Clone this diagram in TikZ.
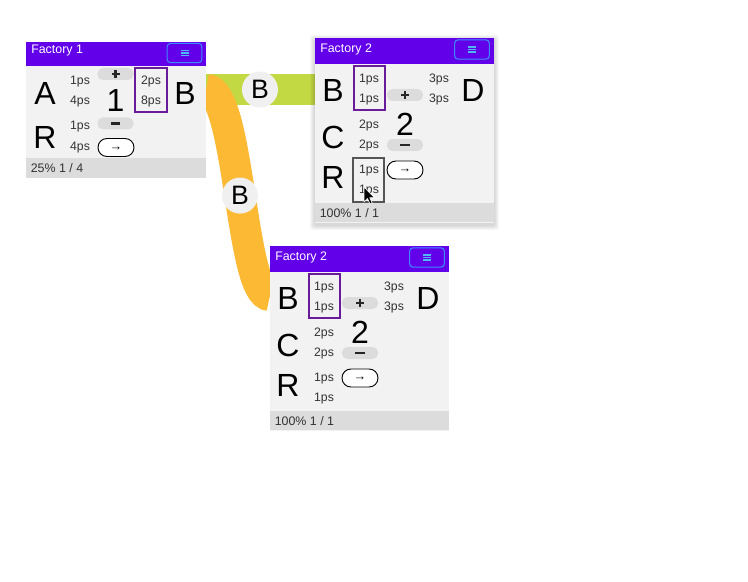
\documentclass[tikz,border=0pt]{standalone}
\usepackage{fontspec}
\setmainfont{Liberation Sans}
\definecolor{hdrc}{HTML}{6200EA}
\definecolor{bodyc}{HTML}{F2F2F2}
\definecolor{footc}{HTML}{DCDCDC}
\definecolor{btnc}{HTML}{DCDCDC}
\definecolor{menub}{HTML}{3D8BFF}
\definecolor{menui}{HTML}{4FB8F7}
\definecolor{selp}{HTML}{6A1B9A}
\definecolor{selg}{HTML}{555555}
\definecolor{greenc}{HTML}{C3D944}
\definecolor{orangec}{HTML}{FBB934}
\definecolor{txt}{HTML}{333333}
\definecolor{lblc}{HTML}{F0F0F0}
\tikzset{
  cardbody/.style={rectangle, fill=bodyc, inner sep=0pt, anchor=north west},
  hdrbar/.style={rectangle, fill=hdrc, inner sep=0pt, anchor=north west},
  footbar/.style={rectangle, fill=footc, inner sep=0pt, anchor=south west},
  hdrtext/.style={anchor=base west, yshift=-3.3pt, text=white, font=\fontsize{9.3}{11}\selectfont, inner sep=0pt},
  foottext/.style={anchor=base west, yshift=-3.3pt, text=txt, font=\fontsize{9.3}{11}\selectfont, inner sep=0pt},
  rate/.style={anchor=base, yshift=-3.3pt, text=txt, font=\fontsize{9.2}{11}\selectfont, inner sep=0pt},
  big/.style={text=black, font=\fontsize{24}{28}\selectfont, inner sep=0pt},
  graybtn/.style={rectangle, fill=btnc, rounded corners=4pt, inner sep=0pt, minimum width=27pt, minimum height=9pt},
  btnicon/.style={draw=black!85, line width=1.7pt},
  pillbtn/.style={rectangle, fill=white, draw=black, line width=0.7pt, rounded corners=6.7pt, inner sep=0pt, minimum width=27pt, minimum height=13.5pt},
  arrowtxt/.style={inner sep=0pt, yshift=-0.8pt, font=\fontsize{9.5}{9.5}\selectfont},
  menubtn/.style={rectangle, draw=menub, line width=0.8pt, rounded corners=2.5pt, inner sep=0pt, minimum width=26pt, minimum height=14.5pt},
  menuicon/.style={draw=menui, line width=0.8pt},
  selbox/.style={rectangle, draw=selp, line width=1.3pt, inner sep=0pt, minimum width=23.25pt, minimum height=33pt},
  grbox/.style={rectangle, draw=selg, line width=1.3pt, inner sep=0pt, minimum width=23.25pt, minimum height=33pt},
  flowlbl/.style={circle, fill=lblc, minimum size=27pt, inner sep=0pt, font=\fontsize{20}{24}\selectfont},
  band/.style={line width=23.25pt},
}
\newcommand{\plusicon}[1]{%
  \draw[btnicon] ([xshift=-3pt]#1.center) -- ([xshift=3pt]#1.center);
  \draw[btnicon] ([yshift=-3pt]#1.center) -- ([yshift=3pt]#1.center);}
\newcommand{\minusicon}[1]{%
  \draw[btnicon, line width=1.9pt] ([xshift=-3.4pt]#1.center) -- ([xshift=3.4pt]#1.center);}
\newcommand{\factorytwo}[3]{%
\begin{scope}[shift={(#2,#3)}]
  \node[cardbody, minimum width=134.25pt, minimum height=138.5pt] (#1) at (0,0) {};
  \node[hdrbar, minimum width=134.25pt, minimum height=19.5pt] (#1hdr) at (0,0) {};
  \node[hdrtext] (#1title) at (5,10) {Factory 2};
  \node[menubtn] (#1menu) at (157,11.5) {};
  \draw[menuicon] (153,9) -- (161,9);
  \draw[menuicon] (153,11.5) -- (161,11.5);
  \draw[menuicon] (153,14) -- (161,14);
  \node[footbar, minimum width=134.25pt, minimum height=14.5pt] (#1foot) at (0,184.5) {};
  \node[foottext] (#1pct) at (4.5,175.2) {100\% 1 / 1};
  \node[big] (#1B) at (18,52) {B};
  \node[big] (#1C) at (18,99) {C};
  \node[big] (#1R) at (18,139) {R};
  \node[rate] (#1r1) at (54,40.5) {1ps};
  \node[rate] (#1r2) at (54,60.5) {1ps};
  \node[rate] (#1r3) at (54,86.5) {2ps};
  \node[rate] (#1r4) at (54,106.5) {2ps};
  \node[rate] (#1r5) at (54,131.5) {1ps};
  \node[rate] (#1r6) at (54,151.5) {1ps};
  \node[selbox] (#1sel) at (54.5,50) {};
  \node[graybtn] (#1plus) at (90,57) {};
  \plusicon{#1plus}
  \node[big] (#1count) at (90,86) {2};
  \node[graybtn] (#1minus) at (90,107) {};
  \minusicon{#1minus}
  \node[pillbtn] (#1go) at (90,132) {};
  \node[arrowtxt] (#1goarr) at (#1go.center) {→};
  \node[rate] (#1o1) at (124,40.5) {3ps};
  \node[rate] (#1o2) at (124,60.5) {3ps};
  \node[big] (#1D) at (158,52) {D};
\end{scope}}
\begin{document}
\begin{tikzpicture}[x=0.75pt,y=-0.75pt]
\useasboundingbox[fill=white] (0,0) rectangle (748,581);
% connection points
\coordinate (f1o) at (206,89.5);
\coordinate (f2ai) at (315,89.5);
\coordinate (f2bi) at (270,295.5);
\coordinate (oc1) at (240,89.5);
\coordinate (oc2) at (240,295.5);
% bands
\draw[band, greenc] (f1o) -- (f2ai);
\draw[band, orangec] (f1o) .. controls (oc1) and (oc2) .. (f2bi);
\path (f1o) -- (f2ai) node[flowlbl, pos=0.495] (lblg) {B};
\path (f1o) .. controls (oc1) and (oc2) .. (f2bi) node[flowlbl, pos=0.51] (lblo) {B};
% Factory 1
\begin{scope}[shift={(26,42)}]
  \node[cardbody, minimum width=135pt, minimum height=102pt] (f1) at (0,0) {};
  \node[hdrbar, minimum width=135pt, minimum height=18pt] (f1hdr) at (0,0) {};
  \node[hdrtext] (f1title) at (5,7.5) {Factory 1};
  \node[menubtn] (f1menu) at (158.5,11) {};
  \draw[menuicon] (154.5,8.5) -- (162.5,8.5);
  \draw[menuicon] (154.5,11) -- (162.5,11);
  \draw[menuicon] (154.5,13.5) -- (162.5,13.5);
  \node[footbar, minimum width=135pt, minimum height=14.5pt] (f1foot) at (0,136) {};
  \node[foottext] (f1pct) at (4.5,126) {25\% 1 / 4};
  \node[big] (f1A) at (19,51) {A};
  \node[big] (f1R) at (19,95) {R};
  \node[rate] (f1r1) at (54,38.3) {1ps};
  \node[rate] (f1r2) at (54,58.3) {4ps};
  \node[rate] (f1r3) at (54,83.3) {1ps};
  \node[rate] (f1r4) at (54,104.3) {4ps};
  \node[graybtn] (f1plus) at (89.5,32) {};
  \plusicon{f1plus}
  \node[big] (f1count) at (89.5,58) {1};
  \node[graybtn] (f1minus) at (89.5,81.5) {};
  \minusicon{f1minus}
  \node[pillbtn] (f1go) at (90,105.5) {};
  \node[arrowtxt] (f1goarr) at (f1go.center) {→};
  \node[selbox, minimum width=24pt] (f1sel) at (125,48) {};
  \node[rate] (f1o1) at (125,38.3) {2ps};
  \node[rate] (f1o2) at (125,58.3) {8ps};
  \node[big] (f1B) at (159,51) {B};
\end{scope}
% shadow of top Factory 2
\foreach \s in {1,2,3,4,5}{
  \fill[black, opacity=0.03, rounded corners=2pt] (315-\s,38-\s+2) rectangle (494+\s,223+\s+2);
}
\factorytwo{f2a}{315}{38}
\node[grbox] (f2agr) at (368.5,180) {};
\factorytwo{f2b}{270}{246}
% mouse cursor
\fill[black, draw=white, line width=0.5pt, line join=round] (364,187) -- (364,202) -- (367.5,198.5) -- (370,204) -- (372.2,203) -- (369.7,197.6) -- (374.5,197.6) -- cycle;
\end{tikzpicture}
\end{document}
